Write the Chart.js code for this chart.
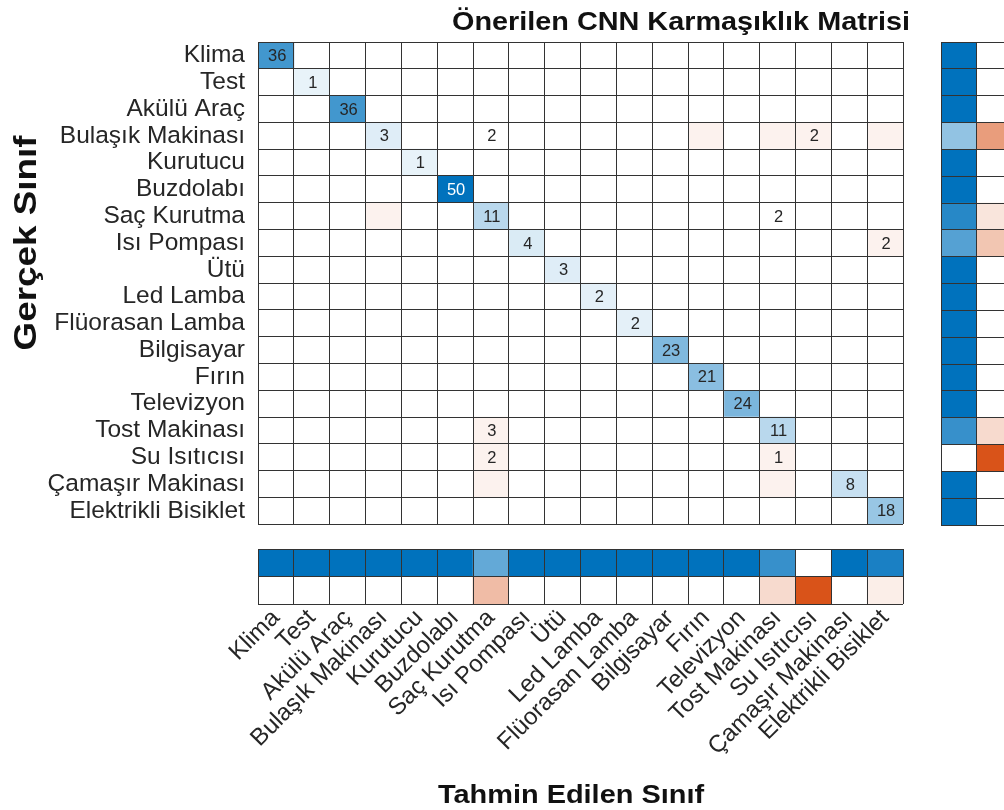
<!DOCTYPE html>
<html>
<head>
<meta charset="utf-8">
<script src="https://cdn.jsdelivr.net/npm/chart.js@4.4.1/dist/chart.umd.min.js"></script>
<style>
  html, body { margin: 0; padding: 0; background: #fff; overflow: hidden; width: 1004px; height: 810px; }
  canvas { position: absolute; }
</style>
</head>
<body>
<canvas id="main" width="1004" height="552" style="left:0;top:0"></canvas>
<canvas id="bottom" width="1004" height="280" style="left:0;top:530px"></canvas>
<canvas id="side" width="100" height="540" style="left:930px;top:0"></canvas>
<script>
// Class names (true class on rows, predicted class on columns)
const classes = [
  'Klima', 'Test', 'Akülü Araç', 'Bulaşık Makinası', 'Kurutucu', 'Buzdolabı',
  'Saç Kurutma', 'Isı Pompası', 'Ütü', 'Led Lamba', 'Flüorasan Lamba', 'Bilgisayar',
  'Fırın', 'Televizyon', 'Tost Makinası', 'Su Isıtıcısı', 'Çamaşır Makinası', 'Elektrikli Bisiklet'
];

// Confusion counts: counts[trueClass][predictedClass], 0 = empty cell
const counts = [
  [36,0,0,0,0,0,0,0,0,0,0,0,0,0,0,0,0,0],
  [0,1,0,0,0,0,0,0,0,0,0,0,0,0,0,0,0,0],
  [0,0,36,0,0,0,0,0,0,0,0,0,0,0,0,0,0,0],
  [0,0,0,3,0,0,2,0,0,0,0,0,0,0,0,2,0,0],
  [0,0,0,0,1,0,0,0,0,0,0,0,0,0,0,0,0,0],
  [0,0,0,0,0,50,0,0,0,0,0,0,0,0,0,0,0,0],
  [0,0,0,0,0,0,11,0,0,0,0,0,0,0,2,0,0,0],
  [0,0,0,0,0,0,0,4,0,0,0,0,0,0,0,0,0,2],
  [0,0,0,0,0,0,0,0,3,0,0,0,0,0,0,0,0,0],
  [0,0,0,0,0,0,0,0,0,2,0,0,0,0,0,0,0,0],
  [0,0,0,0,0,0,0,0,0,0,2,0,0,0,0,0,0,0],
  [0,0,0,0,0,0,0,0,0,0,0,23,0,0,0,0,0,0],
  [0,0,0,0,0,0,0,0,0,0,0,0,21,0,0,0,0,0],
  [0,0,0,0,0,0,0,0,0,0,0,0,0,24,0,0,0,0],
  [0,0,0,0,0,0,3,0,0,0,0,0,0,0,11,0,0,0],
  [0,0,0,0,0,0,2,0,0,0,0,0,0,0,1,0,0,0],
  [0,0,0,0,0,0,0,0,0,0,0,0,0,0,0,0,8,0],
  [0,0,0,0,0,0,0,0,0,0,0,0,0,0,0,0,0,18]
];

// Off-diagonal cells shaded as misclassification, [row, column]
const shadedOffDiagonal = [
  [3,12],[3,14],[3,15],[3,17],[6,3],[7,17],[14,6],[15,6],[15,14],[16,6],[16,14]
];

// Row summary: share of each true class predicted correctly (%)
const rowCorrectPct = [100,100,100,42.9,100,100,84.6,66.7,100,100,100,100,100,100,78.6,0,100,100];
// Column summary: share of each predicted class that is correct (%)
const colCorrectPct = [100,100,100,100,100,100,61.1,100,100,100,100,100,100,100,78.6,0,100,90];

const FONT = "'Liberation Sans', Arial, Helvetica, sans-serif";
const TXT = '#262626';
const GRID = '#333333';
const BLUE = [0, 114, 189];
const RED = [217, 83, 25];
const maxCount = Math.max(...counts.flat());

function mix(rgb, t) {
  const c = rgb.map(v => Math.round(255 - (255 - v) * t));
  return `rgb(${c[0]},${c[1]},${c[2]})`;
}

function cellColor(r, c) {
  const v = counts[r][c];
  if (r === c) return v > 0 ? mix(BLUE, 0.07 + 0.93 * v / maxCount) : '#ffffff';
  const shaded = shadedOffDiagonal.some(([rr, cc]) => rr === r && cc === c);
  return shaded ? mix(RED, 0.075) : '#ffffff';
}

// Count labels centred inside each cell
const cellText = {
  id: 'cellText',
  afterDatasetsDraw(chart) {
    const ctx = chart.ctx;
    ctx.save();
    ctx.font = `16.5px ${FONT}`;
    ctx.textAlign = 'center';
    ctx.textBaseline = 'middle';
    chart.data.datasets.forEach((ds, c) => {
      chart.getDatasetMeta(c).data.forEach((el, r) => {
        const v = counts[r][c];
        if (!v) return;
        ctx.fillStyle = (r === c && v / maxCount > 0.85) ? '#ffffff' : TXT;
        ctx.fillText(String(v), (el.x + el.base) / 2 + 1, el.y + 1);
      });
    });
    ctx.restore();
  }
};

function drawText(ctx, text, x, y, size, align, angle, stretch) {
  ctx.save();
  ctx.translate(x, y);
  ctx.rotate(angle);
  ctx.scale(stretch, 1);
  ctx.font = `bold ${size}px ${FONT}`;
  ctx.fillStyle = '#111111';
  ctx.textAlign = align;
  ctx.textBaseline = 'alphabetic';
  ctx.fillText(text, 0, 0);
  ctx.restore();
}

const mainTitles = {
  id: 'mainTitles',
  afterDraw(chart) {
    const ctx = chart.ctx;
    const area = chart.chartArea;
    drawText(ctx, 'Önerilen CNN Karmaşıklık Matrisi', area.right + 7, 30, 25.5, 'right', 0, 1.13);
    drawText(ctx, 'Gerçek Sınıf', 36, 243, 32, 'center', -Math.PI / 2, 1.15);
  }
};

const bottomTitle = {
  id: 'bottomTitle',
  afterDraw(chart) {
    drawText(chart.ctx, 'Tahmin Edilen Sınıf', 571, 273, 25.6, 'center', 0, 1.13);
  }
};

const common = {
  responsive: false,
  animation: false,
  events: [],
  plugins: { legend: { display: false }, tooltip: { enabled: false } }
};

const gridOpts = (extra) => Object.assign({ color: GRID, lineWidth: 1, drawTicks: false, z: 1 }, extra || {});

// Main matrix: one floating-bar dataset per predicted class
new Chart(document.getElementById('main'), {
  type: 'bar',
  data: {
    labels: classes,
    datasets: classes.map((name, c) => ({
      label: name,
      data: classes.map(() => [c, c + 1]),
      backgroundColor: classes.map((_, r) => cellColor(r, c)),
      borderWidth: 0,
      grouped: false,
      barPercentage: 1,
      categoryPercentage: 1
    }))
  },
  options: {
    ...common,
    indexAxis: 'y',
    layout: { padding: { left: 0, right: 101, top: 42, bottom: 27 } },
    scales: {
      x: {
        type: 'linear', min: 0, max: 18,
        ticks: { display: false, stepSize: 1, maxTicksLimit: 100 },
        grid: gridOpts(),
        border: { display: false },
        afterFit: s => { s.height = 0; }
      },
      y: {
        type: 'category',
        ticks: { font: { family: FONT, size: 24.5 }, color: TXT, padding: 13, autoSkip: false },
        grid: gridOpts({ offset: true }),
        border: { display: false },
        afterFit: s => { s.width = 258; }
      }
    }
  },
  plugins: [cellText, mainTitles]
});

// Column summary below the matrix
new Chart(document.getElementById('bottom'), {
  type: 'bar',
  data: {
    labels: classes,
    datasets: [
      {
        data: classes.map(() => [0, 1]),
        backgroundColor: colCorrectPct.map(p => mix(BLUE, p / 100)),
        borderWidth: 0, grouped: false, barPercentage: 1, categoryPercentage: 1
      },
      {
        data: classes.map(() => [1, 2]),
        backgroundColor: colCorrectPct.map(p => mix(RED, 1 - p / 100)),
        borderWidth: 0, grouped: false, barPercentage: 1, categoryPercentage: 1
      }
    ]
  },
  options: {
    ...common,
    layout: { padding: { left: 258, right: 101, top: 19, bottom: 0 } },
    scales: {
      x: {
        type: 'category',
        ticks: { font: { family: FONT, size: 24 }, color: TXT, minRotation: 45, maxRotation: 45, autoSkip: false, padding: 0 },
        grid: gridOpts({ offset: true }),
        border: { display: false },
        afterFit: s => { s.height = 206; }
      },
      y: {
        type: 'linear', min: 0, max: 2, reverse: true,
        ticks: { display: false, stepSize: 1 },
        grid: gridOpts(),
        border: { display: false },
        afterFit: s => { s.width = 0; }
      }
    }
  },
  plugins: [bottomTitle]
});

// Row summary to the right of the matrix
new Chart(document.getElementById('side'), {
  type: 'bar',
  data: {
    labels: classes,
    datasets: [
      {
        data: classes.map(() => [0, 1]),
        backgroundColor: rowCorrectPct.map(p => mix(BLUE, p / 100)),
        borderWidth: 0, grouped: false, barPercentage: 1, categoryPercentage: 1
      },
      {
        data: classes.map(() => [1, 2]),
        backgroundColor: rowCorrectPct.map(p => mix(RED, 1 - p / 100)),
        borderWidth: 0, grouped: false, barPercentage: 1, categoryPercentage: 1
      }
    ]
  },
  options: {
    ...common,
    indexAxis: 'y',
    layout: { padding: { left: 11, right: 19, top: 42, bottom: 15 } },
    scales: {
      x: {
        type: 'linear', min: 0, max: 2,
        ticks: { display: false, stepSize: 1 },
        grid: gridOpts(),
        border: { display: false },
        afterFit: s => { s.height = 0; }
      },
      y: {
        type: 'category',
        ticks: { display: false },
        grid: gridOpts({ offset: true }),
        border: { display: false },
        afterFit: s => { s.width = 0; }
      }
    }
  }
});
</script>
</body>
</html>
